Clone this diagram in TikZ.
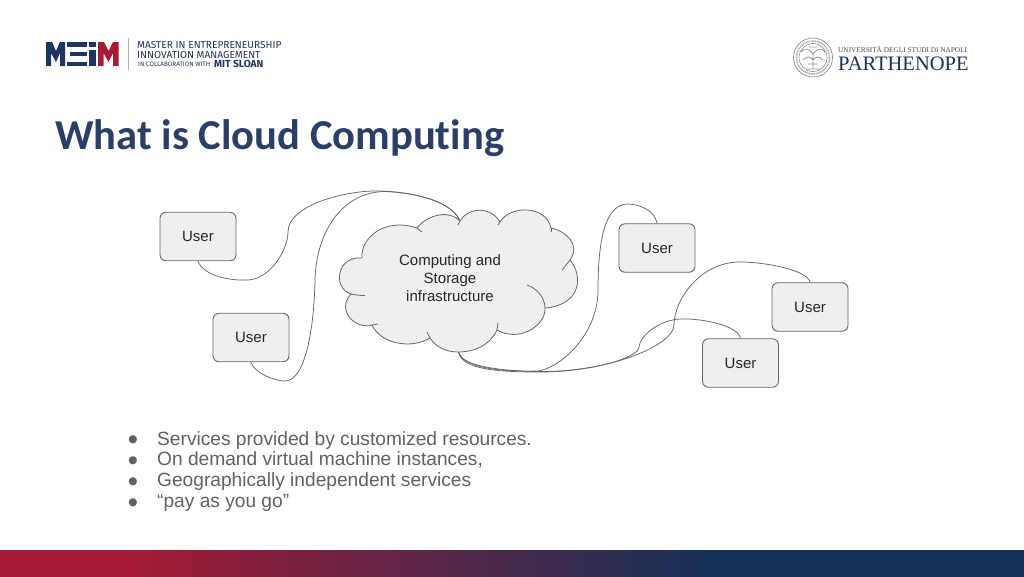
\documentclass[tikz,border=0pt]{standalone}
\usepackage{fontspec}
\setmainfont{Liberation Sans}
\newfontfamily\titlefont[Ligatures=NoCommon]{Carlito}
\newfontfamily\logofont{Fira Sans}
\newfontfamily\serifont{Liberation Serif}
\newfontfamily\symbolfont{DejaVu Sans}
\definecolor{navy}{HTML}{1F3560}
\definecolor{titleblue}{HTML}{2B3F66}
\definecolor{logored}{HTML}{A51C36}
\definecolor{barred}{HTML}{A41A35}
\definecolor{barblue}{HTML}{153158}
\definecolor{boxfill}{HTML}{EFEFEF}
\definecolor{edgegrey}{HTML}{666666}
\tikzset{
  userbox/.style={draw=edgegrey,fill=boxfill,rounded corners=6pt,line width=0.9pt,minimum width=76pt,minimum height=48.5pt,inner sep=0pt,font=\fontsize{15}{16}\selectfont,text=black!85},
  link/.style={draw=edgegrey,line width=0.75pt},
  cloudline/.style={draw=edgegrey,line width=0.8pt},
  bullettext/.style={anchor=base west,inner sep=0pt,font=\fontsize{19.15}{20}\selectfont,text=black!62},
  bulletdot/.style={anchor=center,inner sep=0pt,font=\symbolfont\fontsize{10.5}{11}\selectfont,text=black!62},
  logotext/.style={anchor=base west,inner sep=0pt,text=navy,text height=6.5pt,text depth=0pt},
}
\begin{document}
\begin{tikzpicture}[x=1pt,y=-1pt]
\useasboundingbox (0,0) rectangle (1024,576);
% footer band
\fill[barred] (0,550) rectangle (131,577);
\shade[left color=barred,right color=barblue] (130,550) rectangle (710,577);
\fill[barblue] (709,550) rectangle (1024,577);
% MEIM logo
\fill[navy] (46,42) -- (52,42) -- (56,51) -- (60,42) -- (65,42) -- (65,66) -- (60,66) -- (60,53) -- (56,62) -- (51,53) -- (51,66) -- (46,66) -- cycle;
\fill[navy] (67,42) rectangle (86.5,46.5);
\fill[navy] (70,52) rectangle (86.5,56);
\fill[navy] (67,61.5) rectangle (86.5,66);
\fill[navy] (89,50) rectangle (96,66);
\fill[navy] (89,42) rectangle (96,47);
\fill[logored] (98,42) -- (104,42) -- (108.5,51) -- (113,42) -- (118.5,42) -- (118.5,66) -- (113,66) -- (113,53) -- (108.5,62) -- (103.5,53) -- (103.5,66) -- (98,66) -- cycle;
\draw[gray!60,line width=0.7pt] (128,38) -- (128,70);
\node[logotext,font=\logofont\fontsize{10.15}{11}\selectfont] (logoa) at (137,48.5) {MASTER IN ENTREPRENEURSHIP};
\node[logotext,font=\logofont\fontsize{10.15}{11}\selectfont] (logob) at (137,58) {INNOVATION MANAGEMENT};
\node[logotext,font=\logofont\fontsize{6.4}{7}\selectfont,text height=4.5pt] (logoc) at (138,66.5) {IN COLLABORATION WITH};
\node[logotext,font=\logofont\bfseries\fontsize{10.2}{11}\selectfont] (logod) at (214,67) {MIT SLOAN};
% university logo
\draw[gray!90,line width=0.7pt] (813,57.5) circle (19.5);
\draw[gray!80,line width=1.6pt,dash pattern=on 0.8pt off 0.8pt] (813,57.5) circle (16.5);
\draw[gray!90,line width=0.6pt] (813,57.5) circle (14);
\draw[gray!85,line width=0.8pt] (801,52) .. controls (806,46) and (810,50) .. (813,54) .. controls (816,50) and (820,46) .. (825,52)
  (803,60) .. controls (807,56) and (810,56) .. (813,60) .. controls (816,56) and (819,56) .. (823,60)
  (813,54) -- (813,68) (806,69) -- (820,69) (808,64) -- (818,64) (809,47) -- (817,47);
\node[anchor=base west,inner sep=0pt,text=black!70,font=\serifont\fontsize{7.3}{8}\selectfont] (unia) at (838,52) {UNIVERSITÀ DEGLI STUDI DI NAPOLI};
\node[anchor=base west,inner sep=0pt,text=navy!90!black,font=\serifont\fontsize{20.55}{22}\selectfont] (unib) at (838,70) {PARTHENOPE};
% title
\node[anchor=base west,inner sep=0pt,text=titleblue,font=\titlefont\bfseries\fontsize{42.6}{46}\selectfont] (title) at (55,149) {What is Cloud Computing};
% connector ends on the cloud
\coordinate (ctop) at (459.5,220);
\coordinate (cbot) at (458.5,352);
% cloud
\filldraw[cloudline,fill=boxfill]
 (362,258) .. controls (360,238) and (385,217) .. (417,228)
 .. controls (425,217) and (447,208) .. (460,221)
 .. controls (467,208) and (490,205) .. (500,222)
 .. controls (510,205) and (546,205) .. (551,228)
 .. controls (566,231) and (581,245) .. (570,260)
 .. controls (583,275) and (582,305) .. (545,308)
 .. controls (546,325) and (520,343) .. (497,330)
 .. controls (490,345) and (475,352) .. (458,352)
 .. controls (445,352) and (435,346) .. (430,338)
 .. controls (410,350) and (380,343) .. (372,325)
 .. controls (355,330) and (336,310) .. (351,294)
 .. controls (341,291) and (338,280) .. (340,273)
 .. controls (342,262) and (352,257) .. (362,258) -- cycle;
\draw[cloudline] (417,228) -- (422,232);
\draw[cloudline] (460,221) -- (458,225);
\draw[cloudline] (500,222) -- (498,225);
\draw[cloudline] (551,228) -- (551,232);
\draw[cloudline] (570,260) -- (562,270);
\draw[cloudline] (545,308) .. controls (545,297) and (536,288) .. (527,285);
\draw[cloudline] (497,330) -- (498,323);
\draw[cloudline] (430,338) -- (427,332);
\draw[cloudline] (372,325) -- (378,324);
\draw[cloudline] (351,294) .. controls (356,295) and (360,295.5) .. (365,295.5);
\node[align=center,inner sep=0pt,text=black!85,font=\fontsize{15}{18}\selectfont] (cloud) at (450,278) {Computing and\\Storage\\infrastructure};
% users
\node[userbox] (ua) at (198,236.5) {\raisebox{-0.8pt}{User}};
\node[userbox] (ub) at (251,337.5) {\raisebox{-0.3pt}{User}};
\node[userbox] (uc) at (657,248) {\raisebox{-0.5pt}{User}};
\node[userbox] (ud) at (810,307) {\raisebox{-0.5pt}{User}};
\node[userbox] (ue) at (740.5,363) {\raisebox{-0.5pt}{User}};
% connectors
\draw[link] (ua.south) .. controls (203,275) and (228,281) .. (248,280)
  .. controls (270,279) and (288,250) .. (288,232)
  .. controls (288,205) and (345,191) .. (375,191)
  .. controls (410,191) and (450,200) .. (ctop);
\draw[link] (ub.south) .. controls (254,373) and (275,381) .. (285,381)
  .. controls (305,381) and (314,330) .. (315,280)
  .. controls (316,235) and (340,192) .. (385,191.5)
  .. controls (420,193) and (452,203) .. (ctop);
\draw[link] (uc.north) .. controls (655,210) and (638,204) .. (628,204)
  .. controls (605,204) and (598,240) .. (598,290)
  .. controls (598,335) and (560,368) .. (538,371)
  .. controls (500,372) and (464,368) .. (cbot);
\draw[link] (ud.north) .. controls (808,270) and (765,262) .. (740,262)
  .. controls (700,262) and (674,300) .. (674,325)
  .. controls (674,345) and (610,372) .. (540,372)
  .. controls (500,372) and (462,370) .. (cbot);
\draw[link] (ue.north) .. controls (738,325) and (700,318) .. (680,319)
  .. controls (660,320) and (640,335) .. (639,347)
  .. controls (639,358) and (590,372) .. (540,371.5)
  .. controls (500,371) and (460,366) .. (cbot);
% bullets
\foreach \n/\yy/\dy/\txt in {a/445.2/440/Services provided by customized resources.,b/465.9/461/{On demand virtual machine instances,},c/486.6/482/Geographically independent services,d/507.3/503/“pay as you go”}{
  \node[bulletdot] (dot\n) at (133,\dy) {●};
  \node[bullettext] (item\n) at (157,\yy) {\txt};
}
\end{tikzpicture}
\end{document}
